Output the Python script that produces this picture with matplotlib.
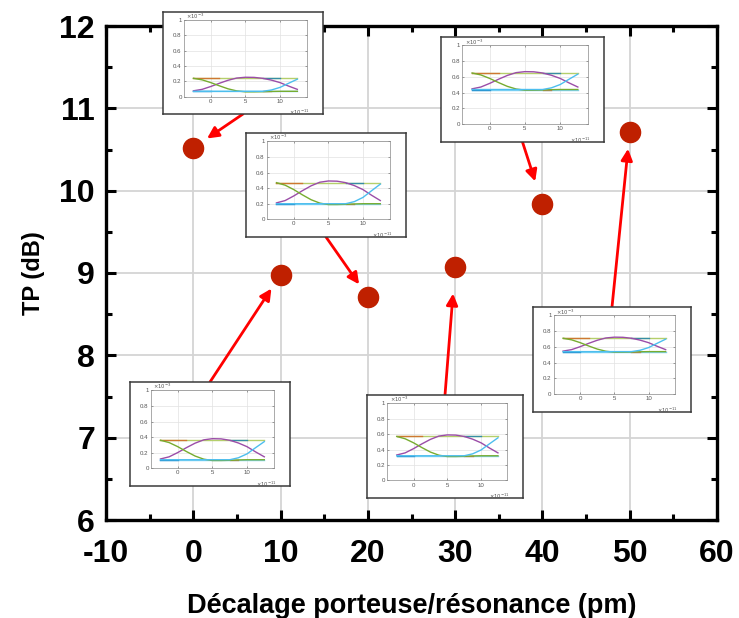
import matplotlib
matplotlib.use('Agg')
from matplotlib import pyplot as plt
from matplotlib.ticker import MultipleLocator
import numpy as np

plt.rcParams['font.family'] = ['Liberation Sans', 'DejaVu Sans']
plt.rcParams['axes.unicode_minus'] = False

# main series
shift_pm = [0, 10, 20, 30, 40, 50]
tp_db = [10.52, 8.98, 8.71, 9.07, 9.84, 10.71]

# eye diagram insets, one per point (levels in units of 1e-3)
eye_low = [0.07, 0.11, 0.20, 0.32, 0.44, 0.54]
eye_high = [0.24, 0.36, 0.47, 0.57, 0.65, 0.71]
eye_t = [-2.5, -1.25, 0, 1.25, 2.5, 3.75, 5, 6.25, 7.5, 8.75, 10, 11.25, 12.5]
# normalised trace shapes (0 = low level, 1 = high level)
shape_bump = [0.04, 0.15, 0.37, 0.62, 0.85, 1.02, 1.08, 1.07, 1.0, 0.86, 0.67, 0.4, 0.15]
shape_fall = [1.0, 0.88, 0.67, 0.42, 0.19, 0.03, -0.04, -0.04, -0.03, -0.01, 0, 0, 0]
shape_rise = [0, 0, 0, 0, 0, 0, 0, 0, 0, 0.1, 0.3, 0.62, 0.93]

# inset frames in figure pixels (left, top, right, bottom)
inset_box = [(163, 12, 323, 114), (130, 382, 290, 486), (246, 133, 406, 237),
             (367, 395, 523, 498), (441, 37, 604, 142), (533, 307, 691, 412)]
inset_side = [0, 1, 0, 1, 0, 1]  # arrow leaves from bottom (0) or top (1)
arrow_gap = [12, 12, 11, 19, 17, 12]

W, H = 739, 618


def draw_eye(fig, box, low, high):
	l, t, r, b = box
	frame = fig.add_axes([l / W, 1 - b / H, (r - l) / W, (b - t) / H])
	frame.set_xticks([])
	frame.set_yticks([])
	frame.set_facecolor('white')
	for s in frame.spines.values():
		s.set_color('#3a3a3a')
		s.set_linewidth(1.1)
	fw, fh = (r - l) / W, (b - t) / H
	inner = fig.add_axes([l / W + 0.13 * fw, 1 - b / H + 0.17 * fh, 0.77 * fw, 0.75 * fh])
	span = high - low
	t_arr = np.array(eye_t)
	lw = 1.0
	inner.plot(eye_t, [high] * len(eye_t), color='#B5CF6B', lw=lw)
	inner.plot(eye_t[:4], [high] * 4, color='#D95319', lw=lw, alpha=0.7)
	inner.plot(eye_t[8:11], [high] * 3, color='#0072BD', lw=lw, alpha=0.7)
	inner.plot(eye_t, [low] * len(eye_t), color='#7FD3F5', lw=lw)
	inner.plot(eye_t[:3], [low] * 3, color='#0072BD', lw=lw, alpha=0.7)
	inner.plot(eye_t[8:10], [low] * 2, color='#D95319', lw=lw, alpha=0.7)
	inner.plot(t_arr, low + span * np.array(shape_bump), color='#9B4DA8', lw=lw)
	inner.plot(t_arr, low + span * np.array(shape_fall), color='#77AC30', lw=lw)
	inner.plot(t_arr, low + span * np.array(shape_rise), color='#4DBEEE', lw=lw)
	inner.set_xlim(-3.9, 13.9)
	inner.set_ylim(0, 1)
	inner.set_xticks([0, 5, 10])
	inner.set_yticks([0, 0.2, 0.4, 0.6, 0.8, 1])
	inner.set_yticklabels(['0', '0.2', '0.4', '0.6', '0.8', '1'])
	inner.grid(True, color='#e2e2e2', lw=0.5)
	inner.tick_params(labelsize=4.4, colors='#555555', length=1.5, width=0.4, pad=1.5,
		direction='in', top=True, right=True)
	for s in inner.spines.values():
		s.set_color('#888888')
		s.set_linewidth(0.5)
	inner.text(0.02, 0.985, r'$\times10^{-3}$', transform=inner.transAxes, fontsize=3.8,
		color='#555555', ha='left', va='bottom')
	inner.text(1.02, -0.15, r'$\times10^{-11}$', transform=inner.transAxes, fontsize=3.8,
		color='#555555', ha='right', va='top')
	return frame


fig = plt.figure(figsize=(7.39, 6.18), dpi=100)
ax = fig.add_axes([106 / W, 1 - 520 / H, (717 - 106) / W, (520 - 26) / H])

ax.plot(shift_pm, tp_db, 'o', ms=14.5, color='#BF2000', zorder=3)

ax.set_xlim(-10, 60)
ax.set_ylim(6, 12)
ax.xaxis.set_major_locator(MultipleLocator(10))
ax.xaxis.set_minor_locator(MultipleLocator(5))
ax.yaxis.set_major_locator(MultipleLocator(1))
ax.yaxis.set_minor_locator(MultipleLocator(0.5))
ax.grid(True, which='major', color='#d4d4d4', lw=1.3)
ax.set_axisbelow(True)
ax.tick_params(which='both', direction='in', top=True, right=True, width=2.2)
ax.tick_params(which='major', length=7)
ax.tick_params(which='minor', length=4.5)
ax.tick_params(axis='x', which='major', pad=14)
ax.tick_params(axis='y', which='major', pad=8)
for s in ax.spines.values():
	s.set_linewidth(2.4)
for lab in ax.get_xticklabels() + ax.get_yticklabels():
	lab.set_fontsize(23)
	lab.set_fontweight('bold')

ax.set_xlabel('Décalage porteuse/résonance (pm)', fontsize=19.5, fontweight='bold', labelpad=17)
ax.set_ylabel('TP (dB)', fontsize=17, fontweight='bold', labelpad=10)

for i in range(len(shift_pm)):
	frame = draw_eye(fig, inset_box[i], eye_low[i], eye_high[i])
	ax.annotate('', xy=(shift_pm[i], tp_db[i]), xycoords='data',
		xytext=(0.5, inset_side[i]), textcoords=frame.transAxes,
		arrowprops=dict(arrowstyle='-|>', color='#FF0000', lw=2, mutation_scale=17,
			shrinkA=0, shrinkB=arrow_gap[i]))

fig.savefig('out.png', dpi=100)
